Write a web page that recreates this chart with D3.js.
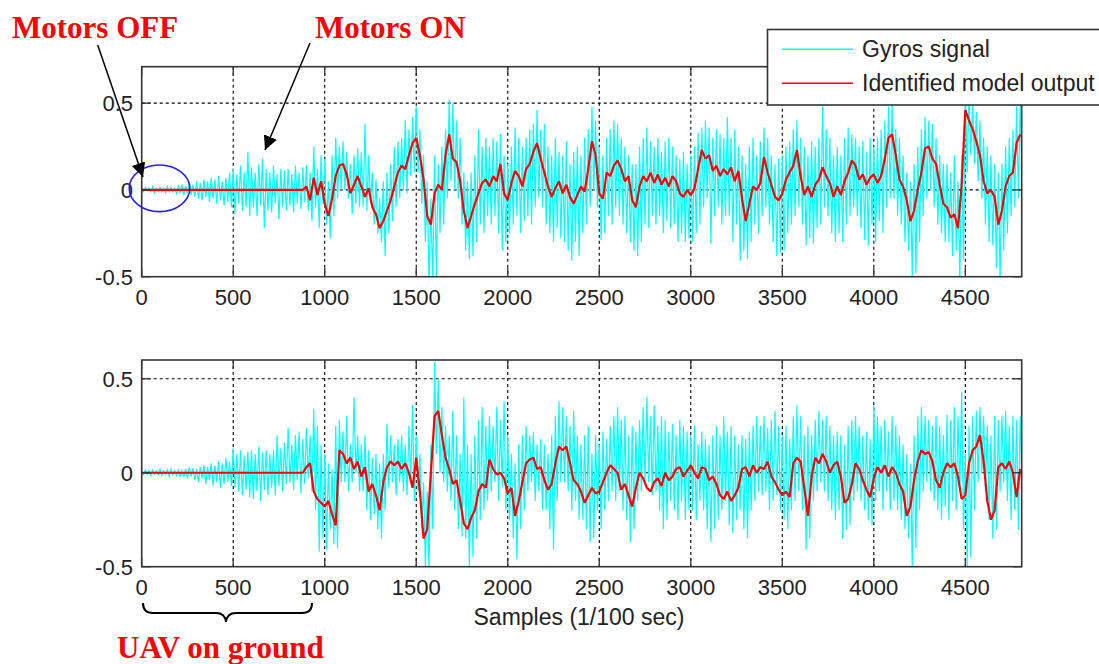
<!DOCTYPE html>
<html><head><meta charset="utf-8">
<script src="https://cdn.jsdelivr.net/npm/d3@7"></script>
<style>body{margin:0;background:#fff;} svg{display:block;}</style>
</head><body>
<svg id="chart" width="1099" height="664"></svg>
<script>
// ---------------- data ----------------
const sampleStep = 20;           // samples between stored values
const xMax = 4808;
const xTicks = [0, 500, 1000, 1500, 2000, 2500, 3000, 3500, 4000, 4500];
const xTickLabels = ["0","500","1000","1500","2000","2500","3000","3500","4000","4500"];
const yTicks = [-0.5, 0, 0.5];
const yTickLabels = ["-0.5","0","0.5"];
const xLabel = "Samples (1/100 sec)";
const seriesNames = ["Gyros signal", "Identified model output"];

// top panel: gyro peaks (at sample s) and troughs (at s+10), model output at s
const topGyroPeaks = [
 0.01,0.015,0.01,0.02,0.01, 0.015,0.01,0.02,0.015,0.01, 0.02,0.03,0.025,0.04,0.03,
 0.05,0.04,0.06,0.05,0.07, 0.06,0.08,0.05,0.07,0.1,
 0.12,0.09,0.14,0.1,0.22, 0.13,0.1,0.15,0.18,0.12, 0.1,0.14,0.09,0.12,0.11, 0.12,0.09,0.14,0.1,0.13,
 0.14,0.1,0.25,0.12,0.2, 0.18,0.05,0.2,0.3,0.25, 0.28,0.22,0.15,0.2,0.24, 0.22,0.38,0.2,0.1,0.06,
 -0.05,0.05,0.1,0.15,0.25, 0.28,0.3,0.4,0.35,0.42, 0.48,0.35,0.2,0.05,-0.05, 0.2,0.15,0.25,0.35,0.52,
 0.5,0.4,0.3,0.1,0.05, 0.1,0.2,0.35,0.25,0.3, 0.25,0.3,0.28,0.32,0.2, 0.15,0.25,0.36,0.3,0.25,
 0.3,0.35,0.38,0.46,0.35, 0.38,0.25,0.2,0.3,0.22, 0.2,0.28,0.15,0.22,0.25, 0.2,0.3,0.35,0.48,0.4,
 0.25,0.2,0.3,0.35,0.4, 0.38,0.3,0.25,0.2,0.15, 0.15,0.25,0.3,0.36,0.28, 0.25,0.3,0.22,0.28,0.3,
 0.25,0.2,0.18,0.22,0.15, 0.2,0.25,0.33,0.36,0.4, 0.36,0.3,0.35,0.32,0.3, 0.42,0.3,0.35,0.25,0.2,
 0.15,0.25,0.3,0.2,0.28, 0.36,0.3,0.2,0.15,0.18, 0.2,0.25,0.28,0.35,0.4, 0.3,0.25,0.2,0.28,0.25,
 0.3,0.48,0.35,0.3,0.2, 0.25,0.2,0.3,0.36,0.32, 0.3,0.25,0.28,0.22,0.3, 0.25,0.3,0.35,0.4,0.48,
 0.5,0.35,0.3,0.2,0.1, 0.05,0.15,0.25,0.35,0.42, 0.4,0.38,0.3,0.2,0.15, 0.15,0.1,0.2,0.05,0.2,
 0.55,0.55,0.5,0.45,0.4, 0.3,0.25,0.2,0.15,0.1, 0.15,0.25,0.3,0.35,0.48,
 0.5
];
const topGyroTroughs = [
 -0.01,-0.005,-0.01,-0.015,-0.01, -0.01,-0.015,-0.01,-0.01,-0.02, -0.015,-0.03,-0.02,-0.03,-0.04,
 -0.05,-0.06,-0.04,-0.07,-0.05, -0.08,-0.06,-0.09,-0.07,-0.1,
 -0.14,-0.08,-0.12,-0.1,-0.15, -0.1,-0.15,-0.09,-0.22,-0.12, -0.13,-0.08,-0.17,-0.1,-0.12, -0.09,-0.13,-0.08,-0.11,-0.07,
 -0.12,-0.18,-0.1,-0.22,-0.08, -0.2,-0.28,-0.15,-0.05,0.0, 0.0,-0.05,-0.14,-0.08,-0.1, -0.1,-0.12,-0.08,-0.2,-0.25,
 -0.3,-0.38,-0.25,-0.18,-0.1, -0.05,0.0,-0.02,0.08,0.1, 0.1,-0.08,-0.3,-0.55,-0.55, -0.5,-0.25,-0.2,-0.05,0.05,
 0.0,-0.05,-0.2,-0.35,-0.4, -0.38,-0.3,-0.2,-0.25,-0.15, -0.2,-0.15,-0.25,-0.35,-0.3, -0.25,-0.2,-0.15,-0.25,-0.18,
 -0.15,-0.2,-0.1,-0.05,-0.1, -0.2,-0.25,-0.3,-0.22,-0.28, -0.3,-0.35,-0.41,-0.3,-0.38, -0.25,-0.2,-0.1,0.0,-0.1,
 -0.29,-0.25,-0.15,-0.2,-0.1, -0.15,-0.2,-0.25,-0.3,-0.35, -0.38,-0.3,-0.2,-0.22,-0.15, -0.2,-0.15,-0.25,-0.18,-0.22,
 -0.2,-0.3,-0.25,-0.3,-0.28, -0.3,-0.25,-0.2,-0.1,-0.05, -0.31,-0.15,-0.1,-0.2,-0.15, -0.15,-0.3,-0.2,-0.41,-0.35,
 -0.4,-0.3,-0.2,-0.25,-0.15, -0.1,-0.2,-0.3,-0.38,-0.36, -0.35,-0.25,-0.2,-0.15,-0.1, -0.2,-0.32,-0.28,-0.31,-0.22,
 -0.2,-0.1,-0.15,-0.25,-0.3, -0.25,-0.3,-0.2,-0.15,-0.1, -0.15,-0.22,-0.29,-0.32,-0.2, -0.3,-0.18,-0.25,-0.1,-0.05,
 -0.05,-0.15,-0.2,-0.3,-0.35, -0.5,-0.48,-0.3,-0.15,-0.05, 0.0,-0.1,-0.2,-0.25,-0.3, -0.3,-0.38,-0.35,-0.52,-0.4,
 0.1,0.2,0.15,0.05,-0.05, -0.2,-0.3,-0.32,-0.45,-0.52, -0.35,-0.25,-0.15,-0.1,-0.05,
 0.1
];
const topModel = [
 0,0,0,0,0, 0,0,0,0,0, 0,0,0,0,0, 0,0,0,0,0, 0,0,0,0,0, 0,0,0,0,0, 0,0,0,0,0, 0,0,0,0,0, 0,0,0,0,0,
 0.02,-0.06,0.07,-0.03,0.05, -0.08,-0.15,-0.05,0.08,0.14, 0.15,0.09,-0.02,0.03,0.08, 0.02,-0.04,0.01,-0.1,-0.14,
 -0.22,-0.18,-0.12,-0.06,0.02, 0.1,0.14,0.12,0.2,0.27, 0.3,0.2,0.06,-0.15,-0.2, -0.02,0.03,0.0,0.2,0.32,
 0.18,0.16,0.05,-0.12,-0.22, -0.15,-0.08,-0.02,0.04,0.06, 0.02,0.08,0.05,0.15,-0.02, -0.06,0.04,0.11,0.08,0.02,
 0.12,0.15,0.22,0.27,0.18, 0.1,0.02,-0.04,0.01,0.05, -0.02,0.03,-0.04,-0.08,-0.03, 0.02,-0.01,0.12,0.28,0.2,
 -0.02,-0.05,0.1,0.08,0.14, 0.17,0.12,0.05,0.08,-0.06, -0.1,0.02,0.08,0.05,0.1, 0.04,0.09,0.03,0.07,0.02,
 0.08,0.05,-0.02,-0.04,0.0, -0.03,0.01,0.12,0.23,0.18, 0.2,0.11,0.14,0.08,0.12, 0.09,0.13,0.05,0.11,-0.05,
 -0.18,-0.08,0.02,0.0,0.04, 0.19,0.1,0.03,-0.04,-0.06, -0.02,0.06,0.1,0.14,0.23, 0.08,-0.03,0.02,-0.04,0.03,
 0.06,0.13,0.08,0.04,-0.04, 0.02,-0.03,0.05,0.1,0.17, 0.14,0.06,0.09,0.03,0.07, 0.09,0.04,0.08,0.18,0.3,
 0.32,0.2,0.06,0.02,-0.06, -0.18,-0.12,0.0,0.1,0.24, 0.25,0.18,0.15,0.03,-0.08, -0.1,-0.16,-0.14,-0.22,0.03,
 0.46,0.4,0.35,0.28,0.2, 0.05,-0.02,0.0,-0.04,-0.2, -0.12,0.02,0.08,0.1,0.27,
 0.32
];

// bottom panel
const botGyroPeaks = [
 0.01,0.015,0.01,0.015,0.01, 0.02,0.01,0.015,0.02,0.01, 0.015,0.01,0.02,0.03,0.025,
 0.02,0.03,0.04,0.03,0.05, 0.04,0.06,0.05,0.08,0.06,
 0.13,0.1,0.12,0.09,0.11, 0.12,0.1,0.14,0.11,0.12, 0.1,0.12,0.2,0.13,0.16, 0.24,0.15,0.2,0.22,0.18,
 0.24,0.2,0.34,0.25,0.15, 0.1,0.05,0.02,0.25,0.28, 0.22,0.3,0.15,0.4,0.2, 0.15,0.2,0.12,0.08,0.1,
 0.05,0.1,0.26,0.2,0.15, 0.18,0.2,0.15,0.25,0.36, 0.2,0.1,-0.05,-0.1,0.15, 0.59,0.5,0.35,0.25,0.2,
 0.33,0.2,0.1,0.4,0.15, 0.1,0.2,0.28,0.35,0.25, 0.3,0.25,0.35,0.28,0.38, 0.2,0.1,0.05,0.15,0.2,
 0.25,0.2,0.22,0.15,0.18, 0.15,0.1,0.2,0.3,0.38, 0.35,0.3,0.25,0.33,0.2, 0.15,0.2,0.25,0.1,0.2,
 0.15,0.22,0.18,0.25,0.3, 0.35,0.28,0.3,0.2,0.25, 0.22,0.28,0.35,0.4,0.3, 0.36,0.25,0.3,0.28,0.22,
 0.26,0.2,0.28,0.25,0.22, 0.2,0.25,0.15,0.22,0.18, 0.15,0.2,0.25,0.2,0.3, 0.22,0.25,0.2,0.15,0.2,
 0.18,0.22,0.25,0.3,0.25, 0.3,0.24,0.28,0.33,0.25, 0.2,0.25,0.18,0.3,0.36, 0.3,0.2,0.25,0.2,0.28,
 0.33,0.28,0.3,0.25,0.2, 0.22,0.2,0.15,0.25,0.28, 0.3,0.25,0.2,0.22,0.18, 0.36,0.3,0.25,0.28,0.22,
 0.3,0.25,0.2,0.15,0.1, 0.05,0.2,0.3,0.35,0.3, 0.28,0.25,0.3,0.25,0.2, 0.31,0.28,0.35,0.3,0.43,
 0.1,0.25,0.3,0.33,0.35, 0.3,0.25,0.2,0.3,0.28, 0.3,0.33,0.25,0.3,0.28,
 0.3
];
const botGyroTroughs = [
 -0.01,-0.01,-0.015,-0.01,-0.01, -0.015,-0.01,-0.02,-0.01,-0.015, -0.02,-0.025,-0.03,-0.02,-0.04,
 -0.05,-0.03,-0.06,-0.04,-0.07, -0.05,-0.08,-0.06,-0.05,-0.07,
 -0.08,-0.1,-0.12,-0.09,-0.13, -0.14,-0.1,-0.15,-0.09,-0.12, -0.08,-0.12,-0.07,-0.1,-0.06, -0.05,-0.09,-0.04,-0.11,-0.06,
 -0.03,-0.1,-0.2,-0.42,-0.35, -0.41,-0.3,-0.38,-0.4,-0.05, -0.05,-0.1,-0.05,0.0,-0.1, -0.1,-0.2,-0.25,-0.22,-0.3,
 -0.35,-0.2,-0.08,-0.05,-0.12, -0.05,-0.1,-0.12,-0.05,-0.15, -0.1,-0.3,-0.5,-0.52,-0.3, 0.1,0.0,-0.05,-0.1,-0.15,
 -0.2,-0.3,-0.34,-0.35,-0.5, -0.45,-0.35,-0.25,-0.2,-0.15, -0.1,-0.05,-0.15,-0.08,-0.2, -0.25,-0.35,-0.46,-0.3,-0.2,
 -0.1,-0.05,-0.15,-0.1,-0.2, -0.2,-0.3,-0.41,-0.15,-0.05, -0.05,-0.1,-0.2,-0.15,-0.25, -0.25,-0.3,-0.37,-0.35,-0.2,
 -0.3,-0.2,-0.15,-0.1,-0.15, -0.1,-0.2,-0.25,-0.37,-0.3, -0.15,-0.1,-0.05,-0.05,-0.12, -0.1,-0.2,-0.3,-0.25,-0.15,
 -0.2,-0.25,-0.15,-0.25,-0.2, -0.2,-0.25,-0.15,-0.2,-0.3, -0.37,-0.3,-0.25,-0.2,-0.15, -0.28,-0.32,-0.25,-0.2,-0.3,
 -0.35,-0.2,-0.15,-0.1,-0.12, -0.1,-0.2,-0.15,-0.12,-0.2, -0.25,-0.3,-0.2,-0.15,-0.1, -0.2,-0.41,-0.35,-0.15,-0.1,
 -0.05,-0.1,-0.15,-0.2,-0.25, -0.2,-0.35,-0.3,-0.28,-0.15, -0.1,-0.15,-0.2,-0.25,-0.28, -0.15,-0.1,-0.2,-0.1,-0.2,
 -0.15,-0.2,-0.25,-0.3,-0.35, -0.5,-0.4,-0.2,-0.1,-0.05, -0.1,-0.15,-0.2,-0.25,-0.18, -0.25,-0.15,-0.2,-0.1,-0.3,
 -0.5,-0.45,-0.2,-0.05,0.0, -0.1,-0.25,-0.35,-0.3,-0.1, -0.05,-0.15,-0.25,-0.2,-0.3,
 0.0
];
const botModel = [
 0,0,0,0,0, 0,0,0,0,0, 0,0,0,0,0, 0,0,0,0,0, 0,0,0,0,0, 0,0,0,0,0, 0,0,0,0,0, 0,0,0,0,0, 0,0,0,0,0,
 0.03,0.05,-0.1,-0.14,-0.16, -0.18,-0.15,-0.22,-0.28,0.12, 0.1,0.05,0.08,0.02,0.06, -0.02,0.03,-0.1,-0.06,-0.12,
 -0.2,-0.05,0.03,0.06,0.04, 0.06,0.02,0.05,0.0,-0.08, 0.08,-0.1,-0.35,-0.3,0.0, 0.3,0.33,0.2,0.08,0.02,
 -0.06,-0.04,-0.15,-0.27,-0.3, -0.24,-0.2,-0.1,-0.06,-0.08, 0.07,0.02,-0.01,0.0,-0.03, -0.11,-0.08,-0.23,-0.15,-0.05,
 0.05,0.07,0.08,0.02,0.03, -0.04,-0.09,-0.06,0.05,0.14, 0.12,0.14,0.05,-0.04,-0.06, -0.1,-0.16,-0.12,-0.08,-0.11,
 -0.1,-0.05,0.0,0.04,0.02, 0.0,-0.09,-0.06,-0.12,-0.18, -0.08,0.0,-0.03,-0.08,-0.1, -0.05,-0.03,-0.07,0.0,-0.04,
 -0.02,0.02,0.03,-0.02,0.01, 0.04,0.0,-0.03,0.03,0.02, -0.04,-0.02,-0.06,-0.12,-0.14, -0.1,-0.15,-0.12,-0.08,0.02,
 0.03,-0.02,0.04,0.0,0.03, 0.02,0.06,-0.02,-0.05,-0.09, -0.12,-0.1,-0.13,0.05,0.08, 0.06,-0.08,-0.23,-0.02,0.08,
 0.05,0.1,0.06,0.0,0.04, 0.06,-0.02,-0.16,-0.14,-0.06, 0.05,0.02,-0.04,-0.09,-0.13, -0.03,0.03,0.0,0.04,-0.02,
 0.03,0.0,-0.06,-0.1,-0.23, -0.18,-0.04,0.06,0.12,0.1, 0.11,0.06,-0.04,-0.08,0.0, 0.05,0.03,0.05,-0.02,-0.14,
 -0.12,0.05,0.12,0.14,0.2, 0.06,-0.15,-0.25,-0.2,0.03, 0.05,0.02,0.06,0.0,-0.13,
 0.02
];

// ---------------- drawing ----------------
const svg = d3.select("#chart");
const FONT = "'Liberation Sans', Arial, Helvetica, sans-serif";
const SERIF = "'Liberation Serif', 'Times New Roman', serif";
const x = d3.scaleLinear().domain([0, xMax]).range([141.7, 1021.7]);

function panel(id, yDomain, yRange, peaks, troughs, model) {
  const y = d3.scaleLinear().domain(yDomain).range(yRange);
  const g = svg.append("g");
  const [top, bottom] = [yRange[1], yRange[0]];
  const left = x.range()[0], right = x.range()[1];

  g.append("clipPath").attr("id", id).append("rect")
    .attr("x", left).attr("y", top).attr("width", right - left).attr("height", bottom - top);

  // grid
  const grid = g.append("g").attr("stroke", "#000").attr("stroke-width", 1.1).attr("stroke-dasharray", "3,3");
  xTicks.filter(t => t > 0).forEach(t => {
    grid.append("line").attr("x1", x(t)).attr("x2", x(t)).attr("y1", top).attr("y2", bottom);
  });
  yTicks.filter(t => t > yDomain[0]).forEach(t => {
    grid.append("line").attr("x1", left).attr("x2", right).attr("y1", y(t)).attr("y2", y(t));
  });

  // data
  const gyroPts = [];
  peaks.forEach((v, i) => {
    gyroPts.push([i * sampleStep, v]);
    gyroPts.push([i * sampleStep + sampleStep / 2, troughs[i]]);
  });
  const line = d3.line().x(d => x(d[0])).y(d => y(d[1]));
  const plot = g.append("g").attr("clip-path", `url(#${id})`);
  plot.append("path").datum(gyroPts).attr("d", line)
    .attr("fill", "none").attr("stroke", "#00ffff").attr("stroke-width", 1.2);
  plot.append("path").datum(model.map((v, i) => [i * sampleStep, v])).attr("d", line)
    .attr("fill", "none").attr("stroke", "#ff0000").attr("stroke-width", 2.2)
    .attr("stroke-linejoin", "bevel");

  // ticks (inside, on all four sides)
  const tl = 9;
  const tk = g.append("g").attr("stroke", "#333").attr("stroke-width", 1.3);
  xTicks.forEach(t => {
    tk.append("line").attr("x1", x(t)).attr("x2", x(t)).attr("y1", bottom).attr("y2", bottom - tl);
    tk.append("line").attr("x1", x(t)).attr("x2", x(t)).attr("y1", top).attr("y2", top + tl);
  });
  yTicks.forEach(t => {
    tk.append("line").attr("x1", left).attr("x2", left + tl).attr("y1", y(t)).attr("y2", y(t));
    tk.append("line").attr("x1", right).attr("x2", right - tl).attr("y1", y(t)).attr("y2", y(t));
  });

  // frame
  g.append("rect").attr("x", left).attr("y", top).attr("width", right - left).attr("height", bottom - top)
    .attr("fill", "none").attr("stroke", "#333").attr("stroke-width", 1.6);

  // tick labels
  xTicks.forEach((t, i) => {
    g.append("text").attr("x", x(t)).attr("y", bottom + 28).attr("text-anchor", "middle")
      .attr("font-family", FONT).attr("font-size", 22).attr("fill", "#222").text(xTickLabels[i]);
  });
  yTicks.forEach((t, i) => {
    g.append("text").attr("x", 133).attr("y", y(t) + 8).attr("text-anchor", "end")
      .attr("font-family", FONT).attr("font-size", 22).attr("fill", "#222").text(yTickLabels[i]);
  });
  return y;
}

const yTop = panel("clipTop", [-0.5, 0.71], [276.7, 66.7], topGyroPeaks, topGyroTroughs, topModel);
const yBot = panel("clipBot", [-0.5, 0.6], [566.7, 360], botGyroPeaks, botGyroTroughs, botModel);

// x axis label
svg.append("text").attr("x", 579).attr("y", 625).attr("text-anchor", "middle")
  .attr("font-family", FONT).attr("font-size", 23).attr("fill", "#222").text(xLabel);

// legend
const lg = svg.append("g");
lg.append("rect").attr("x", 767.5).attr("y", 29.5).attr("width", 340).attr("height", 75.5)
  .attr("fill", "#fff").attr("stroke", "#333").attr("stroke-width", 1.6);
const legendColors = ["#00ffff", "#ff0000"];
[49.3, 83.3].forEach((ly, i) => {
  lg.append("line").attr("x1", 782).attr("x2", 853).attr("y1", ly).attr("y2", ly)
    .attr("stroke", legendColors[i]).attr("stroke-width", 1.5);
  lg.append("text").attr("x", 862).attr("y", ly + 8).attr("font-family", FONT).attr("font-size", 23)
    .attr("fill", "#222").text(seriesNames[i]);
});

// annotations
const defs = svg.append("defs");
defs.append("marker").attr("id", "arrowHead").attr("viewBox", "0 0 10 10").attr("refX", 10).attr("refY", 5)
  .attr("markerWidth", 14).attr("markerHeight", 14).attr("markerUnits", "userSpaceOnUse").attr("orient", "auto")
  .append("path").attr("d", "M0,0 L10,5 L0,10 Z").attr("fill", "#000");

svg.append("ellipse").attr("cx", 159.5).attr("cy", 188.3).attr("rx", 30.3).attr("ry", 23.3)
  .attr("fill", "none").attr("stroke", "#2222ee").attr("stroke-width", 1.6);

svg.append("line").attr("x1", 97.7).attr("y1", 45).attr("x2", 143).attr("y2", 177)
  .attr("stroke", "#000").attr("stroke-width", 1.5).attr("marker-end", "url(#arrowHead)");
svg.append("line").attr("x1", 310).attr("y1", 43).attr("x2", 265).attr("y2", 150)
  .attr("stroke", "#000").attr("stroke-width", 1.5).attr("marker-end", "url(#arrowHead)");

const annStyle = t => t.attr("font-family", SERIF).attr("font-weight", "bold").attr("font-size", 31).attr("fill", "#ff0000");
annStyle(svg.append("text").attr("x", 12).attr("y", 37.7).text("Motors OFF"));
annStyle(svg.append("text").attr("x", 315).attr("y", 37.7).text("Motors ON"));
annStyle(svg.append("text").attr("x", 117).attr("y", 658).attr("font-size", 30).text("UAV on ground"));

// brace under 0..~930 samples
svg.append("path")
  .attr("d", "M143,603 Q143,613 153,613 L216,613 Q225,613 226,622 Q227,613 236,613 L302,613 Q312,613 312,603")
  .attr("fill", "none").attr("stroke", "#000").attr("stroke-width", 2);
</script>
</body></html>
